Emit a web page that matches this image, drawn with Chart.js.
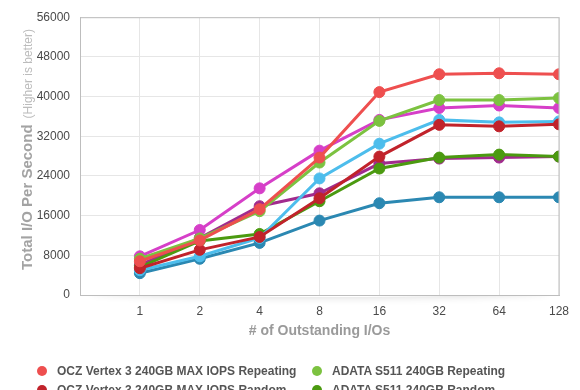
<!DOCTYPE html>
<html>
<head>
<meta charset="utf-8">
<script src="https://cdn.jsdelivr.net/npm/chart.js@4/dist/chart.umd.min.js"></script>
<style>
  html, body { margin: 0; padding: 0; background: #fff; overflow: hidden; }
  #wrap { position: relative; width: 580px; height: 390px; overflow: hidden; }
  #c { position: absolute; left: 0; top: 0; }
  .lg { position: absolute; font-family: "Liberation Sans", Arial, Helvetica, sans-serif; font-weight: bold; font-size: 12px; color: #555; white-space: nowrap; line-height: 14px; }
  .lg i { position: absolute; left: -20px; top: 2px; width: 10px; height: 10px; border-radius: 50%; }
</style>
</head>
<body>
<div id="wrap">
  <canvas id="c" width="580" height="390"></canvas>
  <div id="legend"></div>
</div>
<script>
// ---- data ----
const categories = ['1', '2', '4', '8', '16', '32', '64', '128'];
const seriesNames = [
  'OCZ Vertex 3 240GB MAX IOPS Repeating',
  'ADATA S511 240GB Repeating',
  'OCZ Vertex 3 240GB MAX IOPS Random',
  'ADATA S511 240GB Random',
  'OCZ Vertex 3 240GB Repeating',
  'Corsair Force GT 240GB Repeating',
  'OCZ Vertex 3 240GB Random',
  'Corsair Force GT 240GB Random'
];
const oczMaxRepeating   = [6800, 11000, 17300, 27700, 40900, 44500, 44700, 44500];
const adataRepeating    = [7300, 11400, 16900, 26700, 35100, 39300, 39300, 39700];
const oczMaxRandom      = [5400, 9100, 11700, 19500, 27900, 34300, 34000, 34400];
const adataRandom       = [5600, 10900, 12300, 18900, 25500, 27700, 28300, 27900];
const oczRepeating      = [7800, 13100, 21500, 29100, 35300, 37700, 38200, 37700];
const corsairRepeating  = [5000, 7800, 11500, 23500, 30500, 35300, 34800, 35000];
const oczRandom         = [6000, 11500, 17900, 20500, 26500, 27500, 27700, 27900];
const corsairRandom     = [4400, 7300, 10500, 15000, 18500, 19700, 19700, 19700];
const yTicks = [0, 8000, 16000, 24000, 32000, 40000, 48000, 56000];

const seriesValues = [oczMaxRepeating, adataRepeating, oczMaxRandom, adataRandom,
                      oczRepeating, corsairRepeating, oczRandom, corsairRandom];
const colors = ['#ee4f4f', '#7cc240', '#c1232b', '#4b9a10', '#d63fc8', '#4dbdec', '#a12b8d', '#2b88b2'];
// draw order: first dataset ends up on top
const drawOrder = [0, 2, 1, 5, 3, 4, 6, 7];

const FONT = '"Liberation Sans", Arial, Helvetica, sans-serif';

const datasets = drawOrder.map(i => ({
  label: seriesNames[i],
  data: seriesValues[i].map((v, k) => ({ x: k + 1, y: v })),
  borderColor: colors[i],
  backgroundColor: colors[i],
  pointBackgroundColor: colors[i],
  pointBorderColor: colors[i],
  borderWidth: 3,
  pointRadius: 5.5,
  pointBorderWidth: 1,
  tension: 0,
  fill: false
}));

const decor = {
  id: 'decor',
  beforeDraw(chart) {
    const { ctx, chartArea: a } = chart;
    ctx.save();
    // soft shelf shadow below the x axis
    ctx.beginPath();
    ctx.rect(0, a.bottom + 1, chart.width, 16);
    ctx.clip();
    ctx.shadowColor = 'rgba(0,0,0,0.16)';
    ctx.shadowBlur = 9;
    ctx.shadowOffsetY = 0;
    ctx.fillStyle = '#fff';
    ctx.beginPath();
    ctx.ellipse((a.left + a.right) / 2, a.bottom - 4, (a.right - a.left) / 2 - 10, 6, 0, 0, Math.PI * 2);
    ctx.fill();
    ctx.restore();
  },
  afterDraw(chart) {
    const { ctx, chartArea: a } = chart;
    ctx.save();
    ctx.strokeStyle = '#bdbdbd';
    ctx.lineWidth = 1;
    ctx.strokeRect(a.left + 0.5, a.top + 0.5, a.right - a.left - 0.5, a.bottom - a.top);
    // x title
    ctx.fillStyle = '#9a9a9a';
    ctx.font = 'bold 14px ' + FONT;
    ctx.textAlign = 'center';
    ctx.textBaseline = 'middle';
    ctx.fillText('# of Outstanding I/Os', (a.left + a.right) / 2, 331);
    // y title (two styles)
    ctx.translate(32, 270);
    ctx.rotate(-Math.PI / 2);
    ctx.textAlign = 'left';
    ctx.textBaseline = 'alphabetic';
    ctx.font = 'bold 15px ' + FONT;
    ctx.fillStyle = '#a3a3a3';
    const t1 = 'Total I/O Per Second';
    ctx.fillText(t1, 0, 0);
    const w1 = ctx.measureText(t1).width;
    ctx.font = '12px ' + FONT;
    ctx.fillStyle = '#bcbcbc';
    ctx.fillText('(Higher is better)', w1 + 6, 0);
    ctx.restore();
  }
};

new Chart(document.getElementById('c'), {
  type: 'line',
  data: { datasets },
  options: {
    responsive: false,
    animation: false,
    layout: { padding: { left: 0, right: 21, top: 15, bottom: 0 } },
    plugins: { legend: { display: false }, tooltip: { enabled: false } },
    scales: {
      x: {
        type: 'linear',
        min: 0,
        max: categories.length,
        afterBuildTicks(scale) {
          scale.ticks = [0].concat(categories.map((c, k) => k + 1)).map(v => ({ value: v }));
        },
        ticks: {
          autoSkip: false,
          maxRotation: 0,
          padding: 9,
          color: '#4a4a4a',
          font: { family: FONT, size: 12 },
          callback: v => (v >= 1 ? categories[v - 1] : '')
        },
        grid: { color: '#e6e6e6', drawTicks: false },
        border: { color: '#bdbdbd' },
        afterFit(scale) { scale.height = 95; }
      },
      y: {
        min: 0,
        max: 56000,
        afterBuildTicks(scale) { scale.ticks = yTicks.map(v => ({ value: v })); },
        ticks: {
          padding: 10,
          color: '#4a4a4a',
          font: { family: FONT, size: 12 },
          callback: v => String(v)
        },
        grid: { color: '#e6e6e6', drawTicks: false },
        border: { color: '#bdbdbd' },
        afterFit(scale) { scale.width = 80; }
      }
    }
  },
  plugins: [decor]
});

// HTML legend in two columns (rows continue below the visible window)
const legend = document.getElementById('legend');
const colX = [57, 332];
const rowY = [364, 383, 402, 421];
const legendOrder = [0, 1, 2, 3, 4, 6, 5, 7];
legendOrder.forEach((si, k) => {
  const d = document.createElement('div');
  d.className = 'lg';
  d.style.left = colX[k % 2] + 'px';
  d.style.top = rowY[Math.floor(k / 2)] + 'px';
  const dot = document.createElement('i');
  dot.style.background = colors[si];
  d.appendChild(dot);
  d.appendChild(document.createTextNode(seriesNames[si]));
  legend.appendChild(d);
});
</script>
</body>
</html>
